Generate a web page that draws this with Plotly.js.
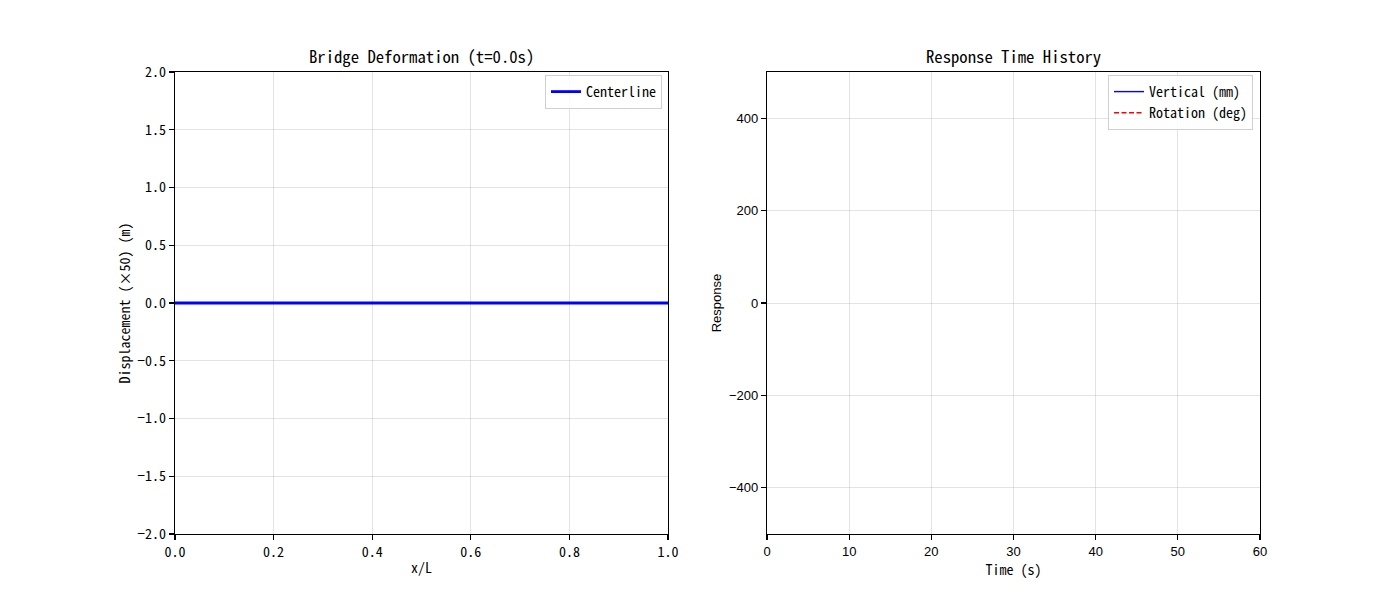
<!DOCTYPE html>
<html>
<head>
<meta charset="utf-8">
<script src="https://cdn.plot.ly/plotly-3.0.1.min.js"></script>
<style>html,body{margin:0;padding:0;background:#fff;}#chart{width:1400px;height:600px;}</style>
</head>
<body>
<div id="chart"></div>
<script>
// Left panel: bridge deformation at t = 0.0 s
const positionXL = [0.0, 0.1, 0.2, 0.3, 0.4, 0.5, 0.6, 0.7, 0.8, 0.9, 1.0];
const centerlineDisp = [0, 0, 0, 0, 0, 0, 0, 0, 0, 0, 0];
// Right panel: response time history (only the t = 0 sample so far)
const timeSec = [0];
const verticalMm = [0];
const rotationDeg = [0];
const leftTitle = "Bridge Deformation (t=0.0s)";
const rightTitle = "Response Time History";

const CJK = '"Noto Sans Mono CJK SC", "Noto Sans Mono CJK JP", "DejaVu Sans Mono", monospace';
const SANS = '"Liberation Sans", Arial, sans-serif';

const traces = [
  {x: positionXL, y: centerlineDisp, type: 'scatter', mode: 'lines', name: 'Centerline',
   line: {color: '#0000ff', width: 2.8}, xaxis: 'x', yaxis: 'y', legend: 'legend'},
  {x: timeSec, y: verticalMm, type: 'scatter', mode: 'lines', name: 'Vertical (mm)',
   line: {color: '#0000ff', width: 1.4}, xaxis: 'x2', yaxis: 'y2', legend: 'legend2'},
  {x: timeSec, y: rotationDeg, type: 'scatter', mode: 'lines', name: 'Rotation (deg)',
   line: {color: '#ff0000', width: 1.4, dash: '5px,2.5px'}, xaxis: 'x2', yaxis: 'y2', legend: 'legend2'}
];

const axCommon = {
  showline: true, linecolor: '#000', linewidth: 1.1, mirror: true,
  ticks: 'outside', ticklen: 5, tickwidth: 1.1, tickcolor: '#000',
  showgrid: true, gridcolor: 'rgba(176,176,176,0.35)', gridwidth: 1,
  zeroline: false
};

const layout = {
  width: 1400, height: 600,
  margin: {l: 0, r: 0, t: 0, b: 0},
  paper_bgcolor: '#fff', plot_bgcolor: '#fff',
  showlegend: true,
  xaxis: Object.assign({}, axCommon, {
    domain: [175/1400, 668/1400], range: [0, 1], tickmode: 'linear', tick0: 0, dtick: 0.2,
    tickformat: '.1f', anchor: 'y',
    tickfont: {family: CJK, size: 14, color: '#000'},
    title: {text: 'x/L', font: {family: CJK, size: 14, color: '#000'}, standoff: 3}
  }),
  yaxis: Object.assign({}, axCommon, {
    domain: [66/600, 528/600], range: [-2, 2], tickmode: 'linear', tick0: -2, dtick: 0.5,
    tickformat: '.1f', anchor: 'x',
    tickfont: {family: CJK, size: 14, color: '#000'},
    title: {text: 'Displacement (×50) (m)', font: {family: CJK, size: 14, color: '#000'}, standoff: 3}
  }),
  xaxis2: Object.assign({}, axCommon, {
    domain: [767/1400, 1260/1400], range: [0, 60], tickmode: 'linear', tick0: 0, dtick: 10,
    anchor: 'y2',
    tickfont: {family: SANS, size: 13, color: '#000'},
    title: {text: 'Time (s)', font: {family: CJK, size: 14, color: '#000'}, standoff: 4}
  }),
  yaxis2: Object.assign({}, axCommon, {
    domain: [66/600, 528/600], range: [-500, 500], tickmode: 'linear', tick0: -400, dtick: 200,
    anchor: 'x2',
    tickfont: {family: SANS, size: 13, color: '#000'},
    title: {text: 'Response', font: {family: SANS, size: 13, color: '#000'}, standoff: 4}
  }),
  legend: {
    x: 662/1400, y: 1 - 75/600, xanchor: 'right', yanchor: 'top',
    bgcolor: 'rgba(255,255,255,0.8)', bordercolor: '#d0d0d0', borderwidth: 1,
    font: {family: CJK, size: 14, color: '#000'}, tracegroupgap: 0, itemwidth: 30
  },
  legend2: {
    x: 1253/1400, y: 1 - 75/600, xanchor: 'right', yanchor: 'top',
    bgcolor: 'rgba(255,255,255,0.8)', bordercolor: '#d0d0d0', borderwidth: 1,
    font: {family: CJK, size: 14, color: '#000'}, tracegroupgap: 0, itemwidth: 30
  },
  annotations: [
    {text: leftTitle, xref: 'paper', yref: 'paper', x: (175+668)/2/1400, y: 1 - 70/600,
     xanchor: 'center', yanchor: 'bottom', showarrow: false,
     font: {family: CJK, size: 16.7, color: '#000'}},
    {text: rightTitle, xref: 'paper', yref: 'paper', x: (767+1260)/2/1400, y: 1 - 70/600,
     xanchor: 'center', yanchor: 'bottom', showarrow: false,
     font: {family: CJK, size: 16.7, color: '#000'}}
  ]
};

Plotly.newPlot('chart', traces, layout, {displayModeBar: false, staticPlot: true});
</script>
</body>
</html>
